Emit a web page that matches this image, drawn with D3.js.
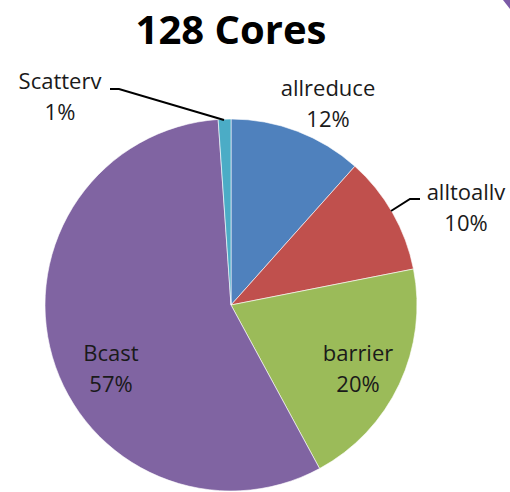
<!DOCTYPE html>
<html>
<head>
<meta charset="utf-8">
<script src="https://cdn.jsdelivr.net/npm/d3@7"></script>
<style>
  html, body { margin: 0; padding: 0; background: #fff; }
  svg { display: block; }
</style>
</head>
<body>
<script>
// ---- data ----
const categories = ["allreduce", "alltoallv", "barrier", "Bcast", "Scatterv"];
const values = [11.6, 10.3, 20.2, 56.8, 1.1];
const colors = ["#4F81BD", "#C0504D", "#9BBB59", "#8064A2", "#4BACC6"];
const title = "128 Cores";

// ---- layout ----
const W = 510, H = 492;
const cx = 231, cy = 305, R = 186;
const labelLayout = {
  allreduce: { x: 328, y: 96 },
  alltoallv: { x: 466, y: 200 },
  barrier:   { x: 358, y: 361 },
  Bcast:     { x: 111, y: 361 },
  Scatterv:  { x: 60,  y: 89 }
};
const leaders = {
  Scatterv: [[110, 89], [119, 89], [224, 120]],
  alltoallv: [[420, 199], [410, 199], [391, 211]]
};

const svg = d3.select("body").append("svg").attr("width", W).attr("height", H);

// corner decoration
svg.append("path").attr("d", "M503,0 L510,0 L510,9 Z").attr("fill", "#7b5aa6");

const data = categories.map((c, i) => ({ name: c, value: values[i], color: colors[i] }));
const total = d3.sum(values);

const pie = d3.pie().sort(null).value(d => d.value);
const arc = d3.arc().innerRadius(0).outerRadius(R);

const g = svg.append("g").attr("transform", `translate(${cx},${cy})`);
g.selectAll("path.slice").data(pie(data)).join("path")
  .attr("class", "slice")
  .attr("d", arc)
  .attr("fill", d => d.data.color)
  .attr("stroke", "#ffffff")
  .attr("stroke-width", 0.6);

// title
svg.append("text")
  .attr("x", 231).attr("y", 44)
  .attr("text-anchor", "middle")
  .attr("font-family", "'Open Sans', 'DejaVu Sans', sans-serif")
  .attr("font-weight", "bold")
  .attr("font-size", 40)
  .attr("fill", "#000")
  .text(title);

// leader lines
const line = d3.line();
Object.keys(leaders).forEach(k => {
  svg.append("path").attr("d", line(leaders[k]))
    .attr("fill", "none").attr("stroke", "#000").attr("stroke-width", 2);
});

// labels
const lab = svg.append("g")
  .attr("font-family", "'Open Sans', 'DejaVu Sans', sans-serif")
  .attr("font-size", 22)
  .attr("fill", "#1a1a1a")
  .attr("text-anchor", "middle");
data.forEach(d => {
  const p = labelLayout[d.name];
  const t = lab.append("text").attr("x", p.x).attr("y", p.y);
  t.append("tspan").attr("x", p.x).attr("dy", 0).text(d.name);
  t.append("tspan").attr("x", p.x).attr("dy", 31)
    .text(Math.round(d.value / total * 100) + "%");
});
</script>
</body>
</html>
